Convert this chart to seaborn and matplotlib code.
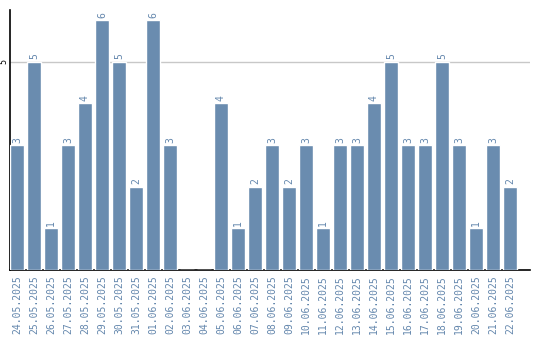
import matplotlib
matplotlib.use("Agg")
import matplotlib.pyplot as plt
import seaborn as sns
import pandas as pd

dates = ["24.05.2025", "25.05.2025", "26.05.2025", "27.05.2025", "28.05.2025",
         "29.05.2025", "30.05.2025", "31.05.2025", "01.06.2025", "02.06.2025",
         "03.06.2025", "04.06.2025", "05.06.2025", "06.06.2025", "07.06.2025",
         "08.06.2025", "09.06.2025", "10.06.2025", "11.06.2025", "12.06.2025",
         "13.06.2025", "14.06.2025", "15.06.2025", "16.06.2025", "17.06.2025",
         "18.06.2025", "19.06.2025", "20.06.2025", "21.06.2025", "22.06.2025"]
values = [3, 5, 1, 3, 4, 6, 5, 2, 6, 3, 0, 0, 4, 1, 2, 3, 2, 3, 1, 3,
          3, 4, 5, 3, 3, 5, 3, 1, 3, 2]
y_ticks = [5]

df = pd.DataFrame({"date": dates, "value": values})

sns.set_theme(style="white")
plt.rcParams['font.family'] = ['DejaVu Sans Mono', 'DejaVu Sans']

bar_color = "#6a8caf"
text_color = "#6487ad"

fig = plt.figure(figsize=(5.4, 3.4), dpi=100)
ax = fig.add_axes([10/540, 70/340, 520/540, 260/340])

sns.barplot(data=df, x="date", y="value", color=bar_color, saturation=1,
            width=14/17, ax=ax, zorder=3)

for i, v in enumerate(values):
    if v > 0:
        ax.text(i, v + 0.06, str(v), rotation=90, ha="center", va="bottom",
                fontsize=7, color=text_color)

ax.set_xlim(-0.41, 30.18)
ax.set_ylim(0, 6.24)
ax.set_yticks(y_ticks)
ax.set_yticklabels([str(t) for t in y_ticks], rotation=90, va="center",
                   fontsize=6, color="black")
ax.tick_params(axis="y", length=0, pad=1)
ax.tick_params(axis="x", length=0, pad=4)
ax.set_xticks(range(len(dates)))
ax.set_xticklabels(dates, rotation=90, fontsize=7, color=text_color)
ax.yaxis.grid(True, color="#c8c8c8", linewidth=1, zorder=1)
ax.xaxis.grid(False)
ax.set_xlabel("")
ax.set_ylabel("")
for s in ["top", "right"]:
    ax.spines[s].set_visible(False)
ax.spines["left"].set_color("black")
ax.spines["bottom"].set_color("black")
ax.spines["left"].set_linewidth(1.2)
ax.spines["bottom"].set_linewidth(1.2)

fig.savefig("out.png", dpi=100)
